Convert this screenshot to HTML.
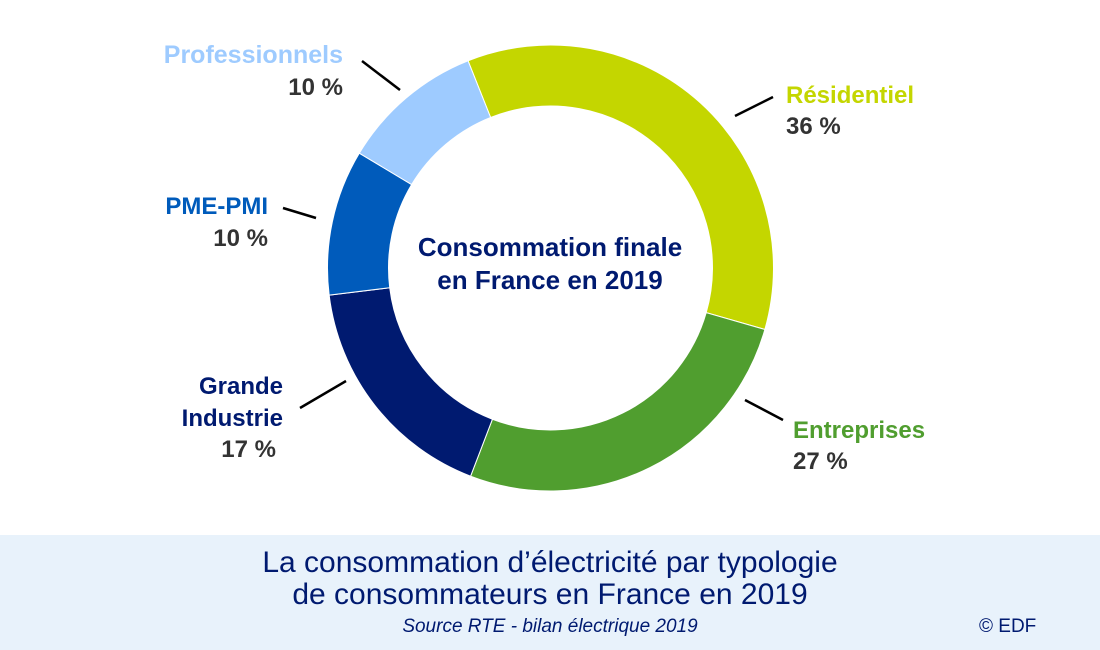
<!DOCTYPE html>
<html><head><meta charset="utf-8"><style>
body{margin:0;width:1100px;height:650px;background:#fff;overflow:hidden;position:relative;font-family:"Liberation Sans",sans-serif}
.l{position:absolute;font-weight:bold;font-size:24px;line-height:31px;white-space:nowrap}
.r{text-align:right;width:300px}
.p{color:#333}
.band{position:absolute;left:0;top:535px;width:1100px;height:115px;background:#e8f2fb}
</style></head><body>
<svg width="1100" height="650" style="position:absolute;left:0;top:0">
<g id="d"></g>
<g stroke="#000" stroke-width="2.5">
<line x1="362" y1="61" x2="400" y2="90"/>
<line x1="283" y1="208" x2="316" y2="218"/>
<line x1="300" y1="408" x2="346" y2="381"/>
<line x1="735" y1="116" x2="773" y2="97"/>
<line x1="745" y1="400" x2="783" y2="420"/>
</g>
</svg>
<div class="band"></div>
<div class="l r" style="left:43px;top:40px;color:#9ecbff;font-size:25px">Professionnels</div>
<div class="l r p" style="left:43px;top:72px">10 %</div>
<div class="l r" style="left:-32px;top:191px;color:#005bbb">PME-PMI</div>
<div class="l r p" style="left:-32px;top:223px">10 %</div>
<div class="l r" style="left:-17px;top:371px;color:#001a70">Grande</div>
<div class="l r" style="left:-17px;top:403px;color:#001a70">Industrie</div>
<div class="l r p" style="left:-24px;top:434px">17 %</div>
<div class="l" style="left:786px;top:80px;color:#c4d600">Résidentiel</div>
<div class="l p" style="left:786px;top:111px">36 %</div>
<div class="l" style="left:793px;top:415px;color:#509e2f">Entreprises</div>
<div class="l p" style="left:793px;top:446px">27 %</div>
<div class="l" style="left:400px;top:231px;width:300px;text-align:center;color:#001a70;font-size:26px;line-height:33px">Consommation finale<br>en France en 2019</div>
<div style="position:absolute;left:150px;top:547px;width:800px;text-align:center;color:#001a70;font-size:30px;line-height:32px">La consommation d’électricité par typologie<br>de consommateurs en France en 2019</div>
<div style="position:absolute;left:200px;top:616px;width:700px;text-align:center;color:#001a70;font-size:19px;font-style:italic">Source RTE - bilan électrique 2019</div>
<div style="position:absolute;left:979px;top:616px;color:#001a70;font-size:19px">© EDF</div>
<script>
var cx=550.5,cy=268,R=223,r=162;
var b=[-21.7,106,201,263,301,338.3],c=["#c4d600","#509e2f","#001a70","#005bbb","#9ecbff"];
function pt(a,rad){a=a*Math.PI/180;return [cx+rad*Math.sin(a),cy-rad*Math.cos(a)];}
var s="";
for(var i=0;i<5;i++){var a0=b[i],a1=b[i+1],lg=(a1-a0)>180?1:0;
var p1=pt(a0,R),p2=pt(a1,R),p3=pt(a1,r),p4=pt(a0,r);
s+='<path fill="'+c[i]+'" stroke="#fff" stroke-width="1" d="M'+p1+' A'+R+' '+R+' 0 '+lg+' 1 '+p2+' L'+p3+' A'+r+' '+r+' 0 '+lg+' 0 '+p4+'Z"/>';}
document.getElementById("d").innerHTML=s;
</script>
</body></html>
